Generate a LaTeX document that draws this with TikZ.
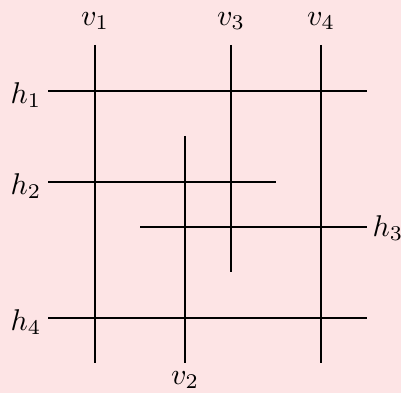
\documentclass[tikz,border=0pt]{standalone}
\definecolor{bgpink}{HTML}{FDE4E5}
\begin{document}
\begin{tikzpicture}[x=0.36pt,y=-0.36pt,
  seg/.style={line width=0.8pt,black},
  lbl/.style={inner sep=2pt,scale=1.08}]
\fill[bgpink] (0,0) rectangle (401,393);
\useasboundingbox (0,0) rectangle (401,393);
% endpoints
\coordinate (h1a) at (48,91);  \coordinate (h1b) at (367,91);
\coordinate (h2a) at (48,182); \coordinate (h2b) at (276,182);
\coordinate (h3a) at (140,227); \coordinate (h3b) at (367,227);
\coordinate (h4a) at (48,318); \coordinate (h4b) at (367,318);
\coordinate (v1a) at (95,45);  \coordinate (v1b) at (95,363);
\coordinate (v2a) at (185,136); \coordinate (v2b) at (185,363);
\coordinate (v3a) at (231,45); \coordinate (v3b) at (231,272);
\coordinate (v4a) at (321,45); \coordinate (v4b) at (321,363);
\draw[seg] (h1a) -- (h1b);
\draw[seg] (h2a) -- (h2b);
\draw[seg] (h3a) -- (h3b);
\draw[seg] (h4a) -- (h4b);
\draw[seg] (v1a) -- (v1b);
\draw[seg] (v2a) -- (v2b);
\draw[seg] (v3a) -- (v3b);
\draw[seg] (v4a) -- (v4b);
\node[lbl] (lh1) at (26,95) {$h_1$};
\node[lbl] (lh2) at (26,186) {$h_2$};
\node[lbl] (lh4) at (26,322) {$h_4$};
\node[lbl] (lh3) at (388,228) {$h_3$};
\node[lbl] (lv1) at (95,21) {$v_1$};
\node[lbl] (lv3) at (231,21) {$v_3$};
\node[lbl] (lv4) at (321,21) {$v_4$};
\node[lbl] (lv2) at (185,380) {$v_2$};
\end{tikzpicture}
\end{document}
